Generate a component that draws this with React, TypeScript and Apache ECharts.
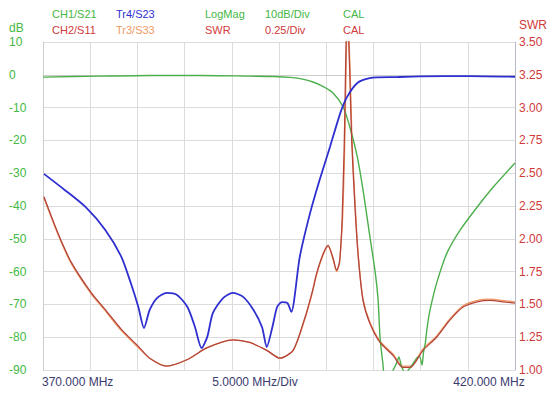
import React, { useEffect, useRef } from "react";
import * as echarts from "echarts";

// Axis ranges
const freqStart = 370;
const freqStop = 420;
const freqDiv = 5;
const dbMin = -90;
const dbMax = 10;
const dbDiv = 10;
const swrMin = 1;
const swrMax = 3.5;
const swrDiv = 0.25;

// Header / labels
const headerRow1 = ["CH1/S21", "Tr4/S23", "LogMag", "10dB/Div", "CAL"];
const headerRow2 = ["CH2/S11", "Tr3/S33", "SWR", "0.25/Div", "CAL"];
const bottomLabels = ["370.000 MHz", "5.0000 MHz/Div", "420.000 MHz"];
const leftUnit = "dB";
const rightUnit = "SWR";

// CH1 / S21 (dB)
const s21Freq = [370.0, 376.0, 381.3, 386.6, 391.9, 394.5, 396.2, 397.5, 398.6, 399.7, 400.7, 401.8, 402.5, 403.3, 403.9, 404.6, 405.2, 405.5, 405.7, 406.0, 406.2, 406.8, 407.1, 407.5, 407.7, 408.0, 408.4, 408.7, 409.1, 409.6, 409.9, 410.15, 410.3, 410.5, 410.7, 411.0, 411.7, 412.8, 414.2, 416.0, 417.7, 420.0];
const s21Db = [-0.7, -0.4, -0.2, -0.2, -0.4, -0.5, -0.8, -1.3, -2.2, -3.6, -5.5, -9.8, -15.9, -25.1, -35.1, -48.8, -60.4, -68.7, -79.9, -87.9, -91.5, -91.5, -90.0, -87.6, -86.0, -89.1, -90.9, -90.0, -88.5, -86.3, -86.0, -88.5, -84.8, -81.8, -76.9, -71.7, -63.5, -54.3, -47.3, -40.3, -34.2, -26.9];

// Tr4 / S23 (dB)
const s23Freq = [370.1, 372.3, 374.5, 376.6, 378.3, 379.3, 380.1, 380.7, 381.3, 382.1, 383.1, 384.2, 385.3, 386.1, 386.8, 387.4, 388.0, 389.1, 390.1, 391.2, 392.3, 393.2, 393.7, 394.3, 394.8, 395.3, 395.9, 396.3, 397.2, 398.3, 399.3, 400.4, 401.5, 402.2, 403.3, 404.6, 407.5, 409.9, 415.2, 420.0];
const s23Db = [-30.2, -35.1, -40.3, -47.3, -55.5, -63.5, -70.8, -77.2, -71.7, -68.0, -66.5, -67.1, -70.8, -76.9, -83.3, -79.9, -72.6, -68.0, -66.5, -67.7, -71.7, -76.9, -83.0, -76.9, -70.8, -69.3, -69.6, -72.3, -55.5, -42.1, -32.1, -22.0, -11.6, -6.8, -2.5, -1.0, -0.7, -0.5, -0.4, -0.6];

// CH2 / S11 (SWR)
const s11Freq = [370.1, 371.6, 373.0, 375.1, 376.6, 378.3, 380.1, 381.3, 383.1, 385.3, 387.4, 390.1, 391.9, 393.7, 395.1, 396.5, 397.75, 398.5, 399.0, 399.7, 400.2, 400.7, 401.1, 401.4, 401.6, 401.7, 401.9, 402.0, 402.1, 402.25, 402.4, 402.5, 402.7, 403.05, 403.4, 403.9, 404.6, 405.7, 407.1, 408.1, 408.9, 410.25, 411.7, 413.1, 414.5, 416.0, 417.4, 418.7, 420.0];
const s11Swr = [2.32, 2.04, 1.82, 1.59, 1.46, 1.31, 1.18, 1.09, 1.03, 1.08, 1.17, 1.23, 1.21, 1.15, 1.09, 1.15, 1.40, 1.59, 1.74, 1.89, 1.95, 1.86, 1.76, 1.82, 2.01, 2.18, 2.68, 3.06, 3.48, 3.90, 3.48, 3.26, 2.75, 2.24, 1.86, 1.53, 1.36, 1.21, 1.11, 1.02, 1.02, 1.15, 1.25, 1.38, 1.48, 1.52, 1.53, 1.52, 1.51];

// Tr3 / S33 (SWR)
const s33Freq = [370.1, 371.6, 373.0, 375.1, 376.6, 378.3, 380.1, 381.3, 383.1, 385.3, 387.4, 390.1, 391.9, 393.7, 395.1, 396.5, 397.75, 398.5, 399.0, 399.7, 400.2, 400.7, 401.1, 401.4, 401.6, 401.75, 401.95, 402.05, 402.15, 402.3, 402.45, 402.55, 402.75, 403.1, 403.4, 403.9, 404.6, 405.7, 407.1, 408.1, 408.9, 410.25, 411.7, 413.1, 414.5, 416.0, 417.4, 418.7, 420.0];
const s33Swr = [2.31, 2.03, 1.81, 1.58, 1.45, 1.30, 1.17, 1.09, 1.03, 1.08, 1.17, 1.23, 1.21, 1.15, 1.09, 1.15, 1.39, 1.58, 1.73, 1.88, 1.94, 1.85, 1.75, 1.81, 2.00, 2.17, 2.66, 3.05, 3.46, 3.88, 3.46, 3.24, 2.73, 2.22, 1.87, 1.54, 1.37, 1.22, 1.12, 1.03, 1.03, 1.16, 1.26, 1.39, 1.49, 1.53, 1.54, 1.53, 1.52];

const GREEN = "#4caf4c";
const GREEN_TXT = "#44b844";
const BLUE = "#2f2fd0";
const RED = "#b3443a";
const RED_TXT = "#d03a3a";
const ORANGE = "#f09a66";
const DARK = "#3a3a6e";
const FONT = "Liberation Sans, Arial, sans-serif";

const zip = (xs: number[], ys: number[]) => xs.map((x, i) => [x, ys[i]]);

export default function App() {
  const ref = useRef<HTMLDivElement>(null);
  useEffect(() => {
    if (!ref.current) return;
    const chart = echarts.init(ref.current, undefined, { renderer: "svg" });
    const headerX = [52, 116, 205, 265, 343];
    const row1Colors = [GREEN_TXT, BLUE, GREEN_TXT, GREEN_TXT, GREEN_TXT];
    const row2Colors = [RED_TXT, ORANGE, RED_TXT, RED_TXT, RED_TXT];
    const graphics: any[] = [];
    headerRow1.forEach((t, i) =>
      graphics.push({ type: "text", x: headerX[i], y: 14, style: { text: t, fill: row1Colors[i], font: `11px ${FONT}`, textVerticalAlign: "middle" } })
    );
    headerRow2.forEach((t, i) =>
      graphics.push({ type: "text", x: headerX[i], y: 30, style: { text: t, fill: row2Colors[i], font: `11px ${FONT}`, textVerticalAlign: "middle" } })
    );
    graphics.push({ type: "text", x: 9, y: 28, style: { text: leftUnit, fill: GREEN_TXT, font: `12px ${FONT}`, textVerticalAlign: "middle" } });
    graphics.push({ type: "text", x: 519, y: 25, style: { text: rightUnit, fill: RED_TXT, font: `12px ${FONT}`, textVerticalAlign: "middle" } });
    const bx = [42, 255, 489];
    const ba = ["left", "center", "center"];
    bottomLabels.forEach((t, i) =>
      graphics.push({ type: "text", x: bx[i], y: 382, style: { text: t, fill: DARK, font: `12px ${FONT}`, textAlign: ba[i], textVerticalAlign: "middle" } })
    );

    const common = { type: "line", showSymbol: false, symbol: "none", smooth: 0.25 };

    chart.setOption({
      animation: false,
      backgroundColor: "#ffffff",
      grid: { left: 43, right: 39, top: 42, bottom: 29, containLabel: false },
      xAxis: {
        type: "value",
        min: freqStart,
        max: freqStop,
        interval: freqDiv,
        axisLine: { show: true, lineStyle: { color: "#cccccc" } },
        axisTick: { show: false },
        axisLabel: { show: false },
        splitLine: { show: true, lineStyle: { color: "#dcdcdc", width: 1 } },
      },
      yAxis: [
        {
          type: "value",
          min: dbMin,
          max: dbMax,
          interval: dbDiv,
          position: "left",
          axisLine: { show: true, lineStyle: { color: "#cccccc" } },
          axisTick: { show: false },
          axisLabel: { color: GREEN_TXT, fontSize: 12, fontFamily: FONT, align: "left", margin: 34 },
          splitLine: { show: true, lineStyle: { color: "#dcdcdc", width: 1 } },
        },
        {
          type: "value",
          min: swrMin,
          max: swrMax,
          interval: swrDiv,
          position: "right",
          axisLine: { show: true, lineStyle: { color: "#b8b8c8" } },
          axisTick: { show: false },
          axisLabel: { color: RED_TXT, fontSize: 12, fontFamily: FONT, margin: 4, formatter: (v: number) => v.toFixed(2) },
          splitLine: { show: false },
        },
      ],
      series: [
        { ...common, name: "S21", yAxisIndex: 0, data: zip(s21Freq, s21Db), lineStyle: { color: GREEN, width: 1.4 }, z: 3 },
        { ...common, name: "S33", yAxisIndex: 1, data: zip(s33Freq, s33Swr), lineStyle: { color: ORANGE, width: 1.3 }, z: 2 },
        { ...common, name: "S11", yAxisIndex: 1, data: zip(s11Freq, s11Swr), lineStyle: { color: RED, width: 1.3 }, z: 4 },
        { ...common, name: "S23", yAxisIndex: 0, data: zip(s23Freq, s23Db), lineStyle: { color: BLUE, width: 1.8 }, z: 5 },
      ],
      graphic: graphics,
    });
    return () => chart.dispose();
  }, []);
  return <div ref={ref} style={{ position: "fixed", left: 0, top: 0, width: 554, height: 399 }} />;
}
